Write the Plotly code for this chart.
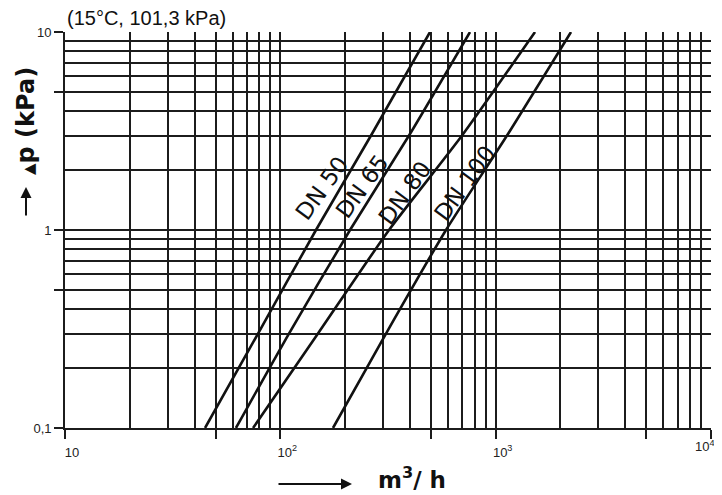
import math
import plotly.graph_objects as go

dp = [0.1, 0.3, 1, 3, 10]

# Flow (m3/h) for each nominal diameter at the dp values above
flow_dn50 = [44.7, 78.8, 146.4, 263.7, 495.6]
flow_dn65 = [62.2, 109.7, 210.7, 395.9, 760]
flow_dn80 = [74.7, 149.6, 319.7, 698, 1523]
flow_dn100 = [175.6, 309.6, 588, 1129, 2238]

series = [
    ("DN 50", flow_dn50),
    ("DN 65", flow_dn65),
    ("DN 80", flow_dn80),
    ("DN 100", flow_dn100),
]

# curve label positions (flow, dp)
label_pos = {
    "DN 50": (156, 1.63),
    "DN 65": (240, 1.67),
    "DN 80": (378, 1.54),
    "DN 100": (721, 1.72),
}

x_tickvals = [10, 50, 100, 500, 1000, 5000, 10000]
x_ticktext = ["10", "", "10<sup>2</sup>", "", "10<sup>3</sup>", "", ""]
y_tickvals = [0.1, 0.5, 1, 5, 10]
y_ticktext = ["0,1", "", "1", "", "10"]

x_minor = [d * m for m in (10, 100, 1000) for d in (2, 3, 4, 6, 7, 8, 9)]
y_minor = [d * m for m in (0.1, 1) for d in (2, 3, 4, 6, 7, 8, 9)]

ink = "#1c1c1c"
tick_font = dict(family="Liberation Sans, Arial", size=13, color="#222")

fig = go.Figure()

for name, flow in series:
    fig.add_trace(go.Scatter(
        x=flow, y=dp, mode="lines", name=name,
        line=dict(color="#111111", width=2.6, shape="spline", smoothing=0.6),
        showlegend=False, hoverinfo="skip",
    ))
    lx, ly = label_pos[name]
    # log axes take annotation positions in log units
    fig.add_annotation(
        x=math.log10(lx), y=math.log10(ly), xref="x", yref="y", text=name,
        showarrow=False, textangle=-54, xanchor="center", yanchor="middle",
        font=dict(family="DejaVu Sans, Arial", size=23, color="#111111"),
    )

axis_common = dict(
    type="log", showline=True, linecolor=ink, linewidth=1.8,
    showgrid=True, gridcolor=ink, gridwidth=1.5,
    ticks="outside", ticklen=9, tickcolor=ink, tickwidth=1.5,
    tickfont=tick_font,
    minor=dict(showgrid=True, gridcolor=ink, gridwidth=1.5, ticks=""),
    zeroline=False, mirror=False, automargin=False,
)

fig.update_xaxes(
    axis_common, range=[1, 4], tickvals=x_tickvals, ticktext=x_ticktext,
    minor_tickvals=x_minor, ticklabelshift=7, ticklabelstandoff=2,
)
fig.update_yaxes(
    axis_common, range=[-1, 1], tickvals=y_tickvals, ticktext=y_ticktext,
    minor_tickvals=y_minor,
)

# the page body adds an 8px offset, so the figure is 8px smaller
fig.update_layout(
    width=714, height=487,
    margin=dict(l=57, r=11, t=24, b=67, autoexpand=False),
    paper_bgcolor="white", plot_bgcolor="white",
)


def px_to_paper(px, py):
    # screen pixel -> paper coords (plot area spans 65..711 x 32..428)
    return (px - 65) / 646, (428 - py) / 396


# last x tick label sits on the right edge, placed by hand so it is not hidden
lx4, ly4 = px_to_paper(693, 446)
fig.add_annotation(
    x=lx4, y=ly4, xref="paper", yref="paper", xanchor="left", yanchor="middle",
    text="10<sup>4</sup>", showarrow=False, font=tick_font,
)

tx, ty = px_to_paper(65, 18)
fig.add_annotation(
    x=tx, y=ty, xref="paper", yref="paper", xanchor="left", yanchor="middle",
    text="(15°C, 101,3 kPa)", showarrow=False,
    font=dict(family="Liberation Sans, Arial", size=20, color="#111"),
)

# x-axis title
mx, my = px_to_paper(376, 478)
fig.add_annotation(
    x=mx, y=my, xref="paper", yref="paper", text="<b>m<sup>3</sup>/ h</b>",
    showarrow=False, font=dict(family="DejaVu Sans, Arial", size=23, color="#111"),
    xanchor="left", yanchor="middle",
)
ax0, ay0 = px_to_paper(352, 484)
fig.add_annotation(
    x=ax0, y=ay0, xref="paper", yref="paper", ax=-75, ay=0,
    showarrow=True, arrowhead=2, arrowsize=1.1, arrowwidth=2, arrowcolor="#111", text="",
)

# y-axis title
yx, yy = px_to_paper(26, 121)
fig.add_annotation(
    x=yx, y=yy, xref="paper", yref="paper", textangle=-90,
    xanchor="center", yanchor="middle",
    text="<b><span style='font-size:15px'>▲</span>p (kPa)</b>", showarrow=False,
    font=dict(family="DejaVu Sans, Arial", size=24, color="#111"),
)
ux, uy = px_to_paper(26, 187)
fig.add_annotation(
    x=ux, y=uy, xref="paper", yref="paper", ax=0, ay=30,
    showarrow=True, arrowhead=2, arrowsize=1.1, arrowwidth=2, arrowcolor="#111", text="",
)

fig.write_html("out.html")
